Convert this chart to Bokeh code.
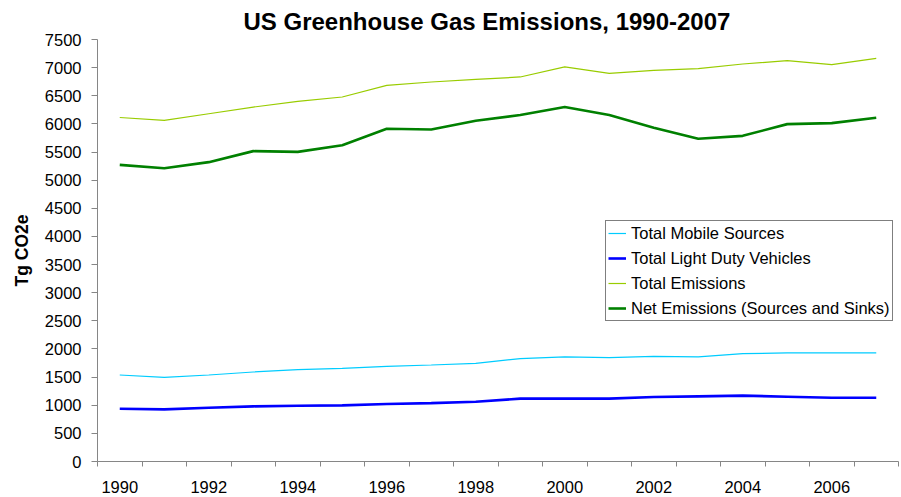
from bokeh.plotting import figure
from bokeh.models import FixedTicker, Legend, LegendItem
from bokeh.embed import file_html
from bokeh.resources import INLINE

# Emissions by year, Tg CO2e
years = list(range(1990, 2008))
total_mobile_sources = [1537, 1496, 1537, 1591, 1633, 1656, 1692, 1715, 1745,
                        1829, 1858, 1847, 1870, 1858, 1918, 1929, 1929, 1929]
total_light_duty = [938, 926, 956, 980, 992, 997, 1021, 1038, 1063,
                    1117, 1117, 1117, 1145, 1158, 1170, 1152, 1134, 1134]
total_emissions = [6114, 6061, 6180, 6299, 6399, 6478, 6684, 6745, 6791,
                   6834, 7012, 6898, 6951, 6982, 7065, 7124, 7053, 7165]
net_emissions = [5272, 5213, 5320, 5516, 5503, 5622, 5913, 5901, 6055,
                 6157, 6299, 6157, 5931, 5735, 5788, 5996, 6014, 6109]

series_names = ["Total Mobile Sources", "Total Light Duty Vehicles",
                "Total Emissions", "Net Emissions (Sources and Sinks)"]
label_years = list(range(1990, 2007, 2))
y_ticks = list(range(0, 7501, 500))

FONT = "Liberation Sans"
AXIS_GREY = "#868686"

p = figure(width=901, height=497, output_backend="svg", toolbar_location=None,
           x_range=(1989.5, 2007.5), y_range=(0, 7500),
           min_border_left=97, min_border_right=3, min_border_top=39,
           min_border_bottom=36, outline_line_color=None,
           background_fill_color="white", border_fill_color="white")

p.title.text = "US Greenhouse Gas Emissions, 1990-2007"
p.title.text_font = FONT
p.title.text_font_size = "24px"
p.title.text_font_style = "bold"
p.title.text_color = "black"
p.title.align = "left"
p.title.offset = 146

p.xgrid.grid_line_color = None
p.ygrid.grid_line_color = None

# category axis: labels at category centres, tick marks on the boundaries
xa = p.xaxis[0]
xa.ticker = FixedTicker(ticks=label_years,
                        minor_ticks=[y - 0.5 for y in years] + [years[-1] + 0.5])
xa.major_tick_out = 0
xa.major_tick_in = 0
xa.minor_tick_out = 5
xa.minor_tick_in = 0
xa.minor_tick_line_color = AXIS_GREY
xa.axis_line_color = AXIS_GREY
xa.major_label_text_font = FONT
xa.major_label_text_font_size = "16.5px"
xa.major_label_text_color = "black"
xa.major_label_standoff = 14

ya = p.yaxis[0]
ya.ticker = FixedTicker(ticks=y_ticks)
ya.major_tick_out = 6
ya.major_tick_in = 0
ya.minor_tick_out = 0
ya.minor_tick_in = 0
ya.major_tick_line_color = AXIS_GREY
ya.axis_line_color = AXIS_GREY
ya.major_label_text_font = FONT
ya.major_label_text_font_size = "16.5px"
ya.major_label_text_color = "black"
ya.major_label_standoff = 10
ya.axis_label = "Tg CO2e"
ya.axis_label_text_font = FONT
ya.axis_label_text_font_size = "17.5px"
ya.axis_label_text_font_style = "bold"
ya.axis_label_text_color = "black"
ya.axis_label_standoff = 10

r_mobile = p.line(years, total_mobile_sources, line_color="#00CCFF", line_width=1.2)
r_ldv = p.line(years, total_light_duty, line_color="#0000FF", line_width=2.6)
r_total = p.line(years, total_emissions, line_color="#99CC00", line_width=1.2)
r_net = p.line(years, net_emissions, line_color="#008000", line_width=2.6)

legend = Legend(
    items=[LegendItem(label=n, renderers=[r]) for n, r in
           zip(series_names, [r_mobile, r_ldv, r_total, r_net])],
    location=(508, 140),
    label_text_font=FONT, label_text_font_size="16.5px", label_text_color="black",
    glyph_width=18, glyph_height=20, label_height=20, label_standoff=5,
    spacing=5, padding=2, margin=0,
    border_line_color="black", border_line_width=1,
    background_fill_color="white", background_fill_alpha=1,
)
p.add_layout(legend)

open("out.html", "w").write(file_html(p, INLINE))
